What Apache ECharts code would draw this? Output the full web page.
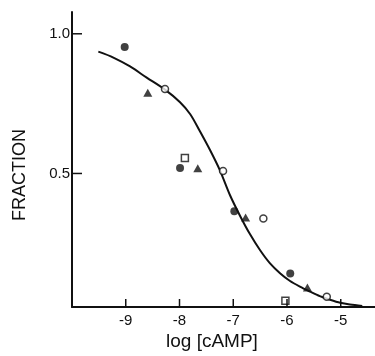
<!DOCTYPE html>
<html>
<head>
<meta charset="utf-8">
<script src="https://cdn.jsdelivr.net/npm/echarts@6/dist/echarts.min.js"></script>
<style>html,body{margin:0;padding:0;background:#fff;}#c{width:375px;height:356px;}</style>
</head>
<body>
<div id="c"></div>
<script>
// Fitted curve
const curveX = [-9.51, -9.23, -8.92, -8.61, -8.27, -7.99, -7.80, -7.62, -7.43, -7.25, -7.06, -6.87, -6.69, -6.50, -6.32, -6.13, -5.95, -5.76, -5.57, -5.39, -5.20, -5.01, -4.83, -4.60];
const curveY = [0.936, 0.915, 0.883, 0.843, 0.800, 0.755, 0.712, 0.651, 0.583, 0.512, 0.422, 0.347, 0.283, 0.225, 0.179, 0.143, 0.116, 0.095, 0.077, 0.061, 0.048, 0.037, 0.031, 0.026];
// Data points by marker type
const filledCircleX = [-9.02, -7.99, -6.98, -5.94];
const filledCircleY = [0.953, 0.520, 0.365, 0.142];
const filledTriangleX = [-8.59, -7.66, -6.77, -5.62];
const filledTriangleY = [0.789, 0.519, 0.342, 0.092];
const openCircleX = [-8.27, -7.19, -6.44, -5.26];
const openCircleY = [0.802, 0.509, 0.339, 0.059];
const openSquareX = [-7.90, -6.03];
const openSquareY = [0.555, 0.044];
// Ticks
const xTicks = [-9, -8, -7, -6, -5];
const yTicks = [0.5, 1.0];
const xTitle = 'log [cAMP]';
const yTitle = 'FRACTION';

const zip = (a, b) => a.map((v, i) => [v, b[i]]);
const font = '"Liberation Sans", Arial, sans-serif';
const ink = '#111';
const X_MIN = -10, X_MAX = -4.363, Y_MIN = 0.022, Y_MAX = 1.078;

const chart = echarts.init(document.getElementById('c'), null, {renderer: 'canvas'});
chart.setOption({
  animation: false,
  backgroundColor: '#fff',
  grid: {left: 72, top: 12, width: 303, height: 295, containLabel: false},
  xAxis: {
    type: 'value', min: X_MIN, max: X_MAX,
    axisLine: {show: true, lineStyle: {color: ink, width: 2}},
    axisTick: {show: false},
    axisLabel: {show: true, customValues: xTicks, margin: 6, color: ink, fontSize: 15, fontFamily: font,
      formatter: v => String(v)},
    splitLine: {show: false}
  },
  yAxis: {
    type: 'value', min: Y_MIN, max: Y_MAX,
    axisLine: {show: true, lineStyle: {color: ink, width: 2}},
    axisTick: {show: false},
    axisLabel: {show: true, customValues: yTicks, margin: 2, color: ink, fontSize: 15, fontFamily: font,
      formatter: v => v.toFixed(1)},
    splitLine: {show: false}
  },
  series: [
    {type: 'line', data: zip(curveX, curveY), showSymbol: false, smooth: 0.3,
      lineStyle: {color: ink, width: 2}, z: 1},
    {type: 'scatter', data: zip(filledCircleX, filledCircleY), symbol: 'circle', symbolSize: 8,
      itemStyle: {color: ink}, z: 3},
    {type: 'scatter', data: zip(filledTriangleX, filledTriangleY), symbol: 'triangle', symbolSize: [9, 8],
      itemStyle: {color: ink}, z: 3},
    {type: 'scatter', data: zip(openCircleX, openCircleY), symbol: 'circle', symbolSize: 7,
      itemStyle: {color: '#fff', borderColor: ink, borderWidth: 1.5}, z: 3},
    {type: 'scatter', data: zip(openSquareX, openSquareY), symbol: 'rect', symbolSize: 7,
      itemStyle: {color: '#fff', borderColor: ink, borderWidth: 1.5}, z: 3}
  ]
});

// Inward ticks placed through the chart's own scales
const g = [];
xTicks.forEach(v => {
  const p = chart.convertToPixel({gridIndex: 0}, [v, Y_MIN]);
  g.push({type: 'line', shape: {x1: p[0], y1: p[1], x2: p[0], y2: p[1] - 8},
    style: {stroke: ink, lineWidth: 1.5}, z: 10});
});
yTicks.forEach(v => {
  const p = chart.convertToPixel({gridIndex: 0}, [X_MIN, v]);
  g.push({type: 'line', shape: {x1: p[0], y1: p[1], x2: p[0] + 10, y2: p[1]},
    style: {stroke: ink, lineWidth: 1.5}, z: 10});
});
g.push({type: 'text', left: 166, top: 332, style: {text: xTitle, fill: ink, font: '19px ' + font}});
g.push({type: 'text', x: 11, y: 221, rotation: Math.PI / 2, style: {text: yTitle, fill: ink, font: '18px ' + font}});
chart.setOption({graphic: g});
</script>
</body>
</html>
